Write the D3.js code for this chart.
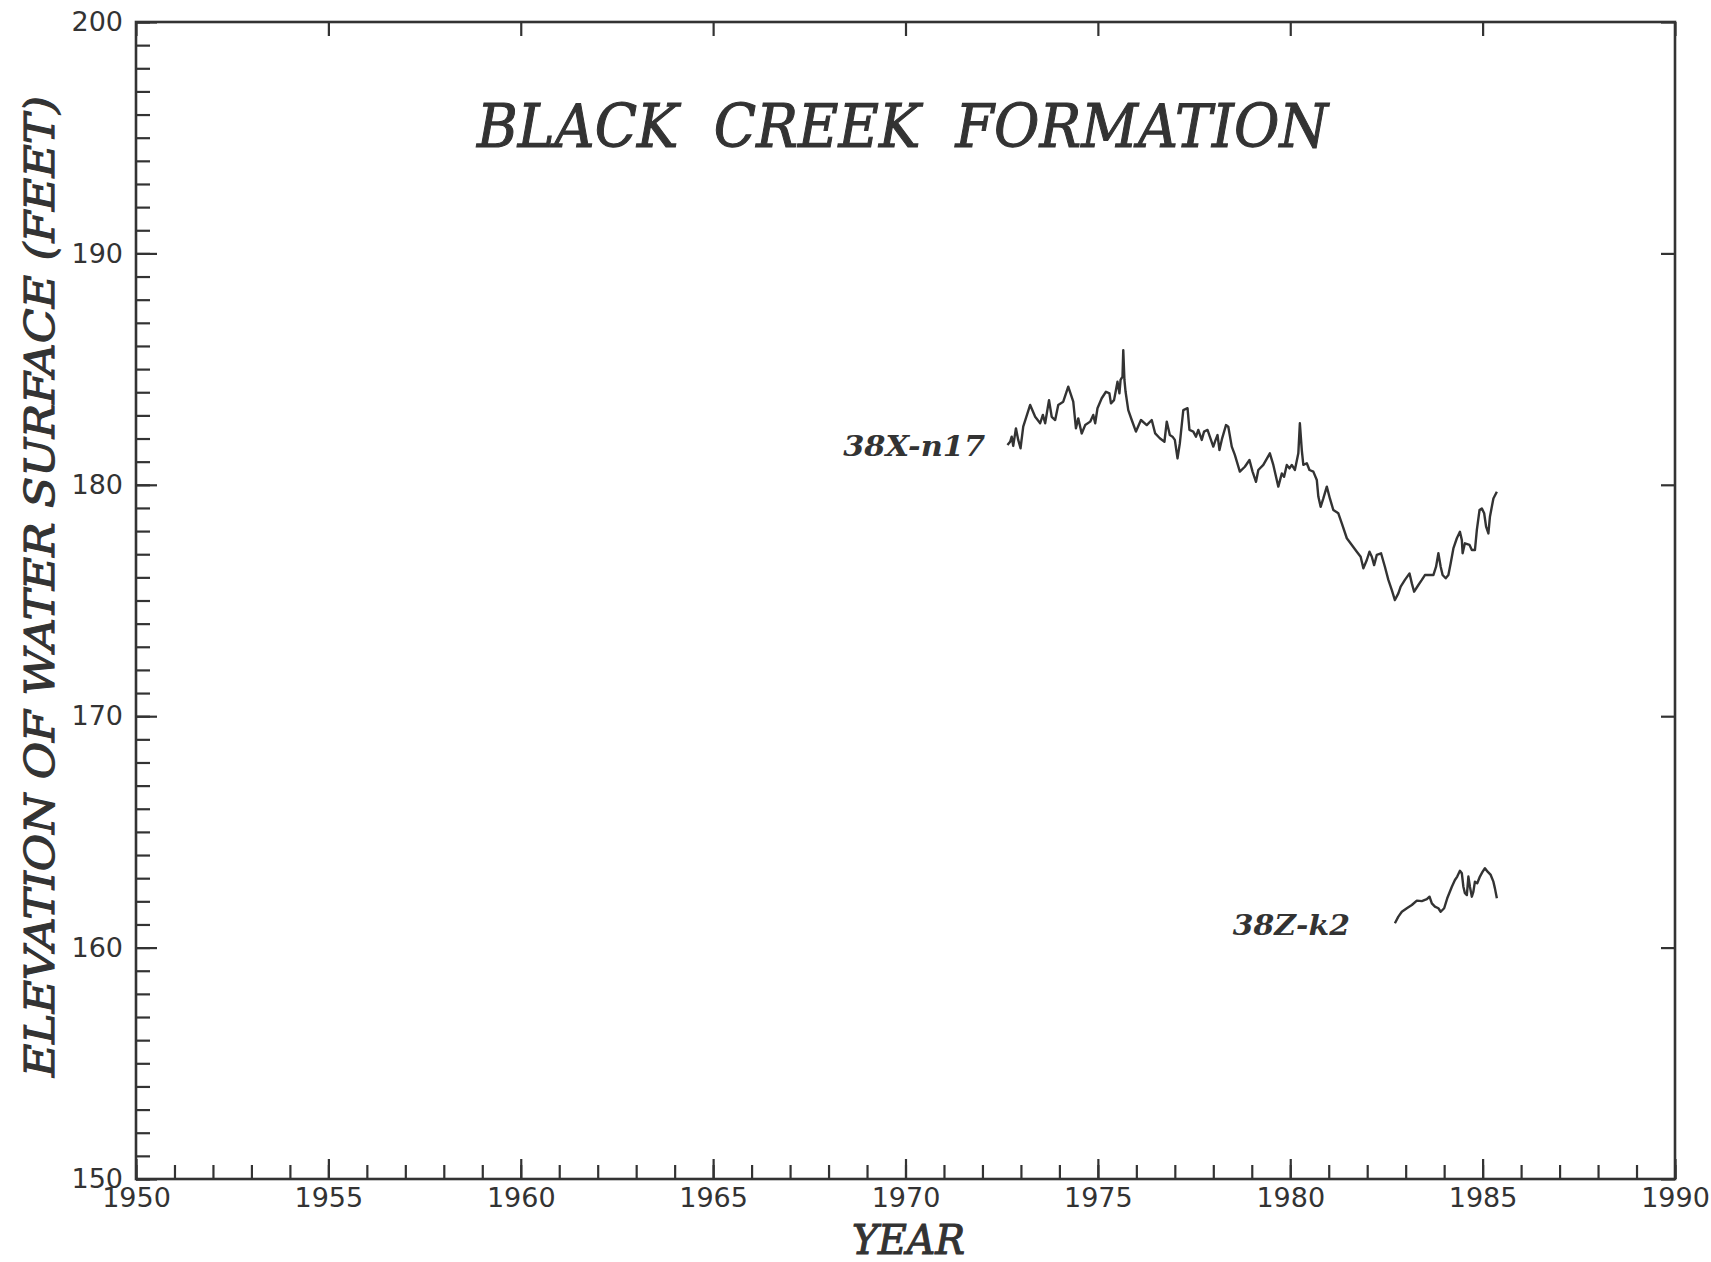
<!DOCTYPE html>
<html>
<head>
<meta charset="utf-8">
<script src="https://cdn.jsdelivr.net/npm/d3@7"></script>
<style>
  html, body { margin: 0; padding: 0; background: #ffffff; }
  svg { display: block; }
  .tick text { font-family: "DejaVu Sans", sans-serif; font-size: 27px; fill: #333; }
</style>
</head>
<body>
<svg id="chart" width="1711" height="1262"></svg>
<script>
// Well 38X-n17 water levels (decimal year, feet above datum)
const n17Years = [
  1972.65,1972.72,1972.76,1972.80,1972.87,1972.93,1972.99,1973.06,1973.24,1973.37,
  1973.50,1973.57,1973.63,1973.73,1973.80,1973.89,1973.97,1974.10,1974.23,1974.36,
  1974.43,1974.49,1974.58,1974.67,1974.80,1974.88,1974.93,1974.99,1975.10,1975.21,
  1975.30,1975.34,1975.42,1975.47,1975.51,1975.56,1975.59,1975.64,1975.66,1975.69,
  1975.72,1975.79,1975.88,1975.99,1976.12,1976.27,1976.40,1976.49,1976.61,1976.73,
  1976.79,1976.87,1976.94,1977.00,1977.07,1977.13,1977.22,1977.33,1977.38,1977.48,
  1977.55,1977.61,1977.70,1977.76,1977.85,1977.91,1978.00,1978.06,1978.11,1978.16,
  1978.23,1978.33,1978.39,1978.48,1978.56,1978.69,1978.82,1978.94,1979.02,1979.11,
  1979.17,1979.30,1979.47,1979.56,1979.69,1979.78,1979.84,1979.91,1979.98,1980.04,
  1980.12,1980.21,1980.25,1980.30,1980.34,1980.43,1980.50,1980.60,1980.69,
  1980.73,1980.79,1980.86,1980.95,1981.03,1981.12,1981.25,1981.34,1981.47,1981.60,
  1981.73,1981.83,1981.90,1981.99,1982.06,1982.12,1982.18,1982.25,1982.36,1982.46,
  1982.55,1982.64,1982.72,1982.81,1982.87,1982.98,1983.10,1983.16,1983.22,1983.33,
  1983.42,1983.50,1983.72,1983.79,1983.85,1983.91,1983.96,1984.04,1984.11,1984.17,
  1984.24,1984.33,1984.41,1984.46,1984.48,1984.54,1984.66,1984.72,1984.80,1984.85,
  1984.92,1984.98,1985.04,1985.09,1985.15,1985.19,1985.28,1985.37
];
const n17Levels = [
  181.72,181.86,182.08,181.68,182.44,181.94,181.58,182.51,183.45,182.94,
  182.66,183.02,182.66,183.66,182.94,182.80,183.45,183.59,184.24,183.59,
  182.44,182.87,182.22,182.58,182.73,183.02,182.66,183.31,183.74,184.02,
  183.95,183.52,183.66,184.10,184.46,183.95,184.53,184.67,185.82,184.53,
  184.02,183.23,182.80,182.30,182.80,182.58,182.80,182.22,182.01,181.86,
  182.73,182.15,182.08,181.94,181.14,181.79,183.23,183.31,182.37,182.30,
  182.08,182.37,181.94,182.30,182.37,182.08,181.65,181.94,182.15,181.50,
  182.01,182.58,182.51,181.65,181.29,180.57,180.78,181.07,180.57,180.13,
  180.64,180.86,181.36,180.86,179.92,180.49,180.35,180.86,180.71,180.86,
  180.64,181.36,182.66,181.50,180.86,180.93,180.64,180.57,180.21,
  179.49,179.05,179.41,179.92,179.41,178.91,178.77,178.33,177.69,177.40,
  177.11,176.89,176.39,176.75,177.11,176.89,176.53,176.97,177.04,176.46,
  175.89,175.45,175.02,175.31,175.60,175.89,176.17,175.74,175.38,175.67,
  175.89,176.10,176.10,176.46,177.04,176.46,176.10,175.96,176.10,176.61,
  177.25,177.69,177.97,177.61,177.04,177.47,177.40,177.18,177.18,178.05,
  178.91,178.98,178.77,178.19,177.90,178.62,179.41,179.70
];

// Well 38Z-k2 water levels
const k2Years = [
  1982.72,1982.81,1982.90,1983.03,1983.16,1983.29,1983.42,1983.55,1983.62,1983.68,
  1983.76,1983.85,1983.91,1984.00,1984.08,1984.20,1984.28,1984.34,1984.41,1984.46,
  1984.50,1984.54,1984.59,1984.63,1984.67,1984.72,1984.76,1984.80,1984.86,1984.93,
  1985.00,1985.06,1985.13,1985.21,1985.28,1985.32,1985.37
];
const k2Levels = [
  161.05,161.34,161.55,161.70,161.84,162.03,162.01,162.09,162.20,161.91,
  161.77,161.70,161.55,161.70,162.13,162.63,162.92,163.07,163.32,163.21,
  162.63,162.35,162.27,163.07,162.63,162.20,162.42,162.85,162.78,163.07,
  163.28,163.43,163.28,163.14,162.85,162.56,162.13
];

// Axis ticks
const yearTicks = [1950, 1955, 1960, 1965, 1970, 1975, 1980, 1985, 1990];
const elevTicks = [150, 160, 170, 180, 190, 200];
const titleText = "BLACK  CREEK  FORMATION";
const xTitle = "YEAR";
const yTitle = "ELEVATION OF WATER SURFACE (FEET)";

(function draw() {
  const svg = d3.select("#chart");
  const ink = "#333";
  const plotLeft = 136, plotRight = 1675, plotTop = 22, plotBottom = 1179;

  const x = d3.scaleLinear().domain([1950, 1990]).range([plotLeft, plotRight]);
  const y = d3.scaleLinear().domain([150, 200]).range([plotBottom, plotTop]);

  function styleAxis(g) {
    g.select(".domain").remove();
    g.selectAll(".tick line").attr("stroke", ink).attr("stroke-width", 2.2);
  }

  // bottom: minor yearly ticks, then major 5-year ticks with labels
  svg.append("g").attr("transform", `translate(0,${plotBottom})`)
    .call(d3.axisBottom(x).tickValues(d3.range(1950, 1991, 1)).tickSize(-14).tickFormat(""))
    .call(styleAxis);
  svg.append("g").attr("transform", `translate(0,${plotBottom})`)
    .call(d3.axisBottom(x).tickValues(yearTicks).tickSize(-20).tickPadding(9).tickFormat(d3.format("d")))
    .call(styleAxis);

  // top: 5-year ticks only
  svg.append("g").attr("transform", `translate(0,${plotTop})`)
    .call(d3.axisTop(x).tickValues(yearTicks).tickSize(-14).tickFormat(""))
    .call(styleAxis);

  // left: minor 1-ft ticks, major 10-ft ticks with labels
  svg.append("g").attr("transform", `translate(${plotLeft},0)`)
    .call(d3.axisLeft(y).tickValues(d3.range(150, 201, 1)).tickSize(-14).tickFormat(""))
    .call(styleAxis);
  svg.append("g").attr("transform", `translate(${plotLeft},0)`)
    .call(d3.axisLeft(y).tickValues(elevTicks).tickSize(-21).tickPadding(13).tickFormat(d3.format("d")))
    .call(styleAxis);

  // right: 10-ft ticks
  svg.append("g").attr("transform", `translate(${plotRight},0)`)
    .call(d3.axisRight(y).tickValues(elevTicks).tickSize(-14).tickFormat(""))
    .call(styleAxis);

  // frame
  svg.append("rect")
    .attr("x", plotLeft).attr("y", plotTop)
    .attr("width", plotRight - plotLeft).attr("height", plotBottom - plotTop)
    .attr("fill", "none").attr("stroke", ink).attr("stroke-width", 2.6);

  // hydrographs
  const line = d3.line().x(d => x(d[0])).y(d => y(d[1]));
  const n17 = n17Years.map((t, i) => [t, n17Levels[i]]);
  const k2 = k2Years.map((t, i) => [t, k2Levels[i]]);
  [n17, k2].forEach(s => {
    svg.append("path").datum(s).attr("d", line)
      .attr("fill", "none").attr("stroke", ink)
      .attr("stroke-width", 2.4).attr("stroke-linejoin", "round");
  });

  // well labels
  const serif = '"DejaVu Serif", serif';
  function wellLabel(text, yr, lvl, width) {
    svg.append("text")
      .attr("x", x(yr) - width).attr("y", y(lvl))
      .attr("font-family", serif).attr("font-style", "italic").attr("font-weight", "bold")
      .attr("font-size", 27).attr("fill", ink)
      .attr("textLength", width).attr("lengthAdjust", "spacingAndGlyphs")
      .text(text);
  }
  wellLabel("38X-n17", 1972.07, 181.24, 142);
  wellLabel("38Z-k2", 1981.55, 160.54, 117);

  // heavier italic serif for the titles
  function heading(sel) {
    return sel.attr("font-family", serif).attr("font-style", "italic")
      .attr("fill", ink).attr("stroke", ink).attr("stroke-width", 1.1)
      .attr("lengthAdjust", "spacingAndGlyphs");
  }

  // chart title
  svg.append("text")
    .attr("x", 477).attr("y", 147)
    .attr("font-size", 60)
    .style("white-space", "pre")
    .attr("textLength", 851)
    .call(heading)
    .text(titleText);

  // axis titles
  svg.append("text")
    .attr("x", 852).attr("y", 1254)
    .attr("font-size", 41)
    .attr("textLength", 113)
    .call(heading)
    .text(xTitle);

  svg.append("text")
    .attr("transform", "translate(54,1077) rotate(-90)")
    .attr("font-size", 41)
    .attr("textLength", 981)
    .call(heading)
    .text(yTitle);
})();
</script>
</body>
</html>
